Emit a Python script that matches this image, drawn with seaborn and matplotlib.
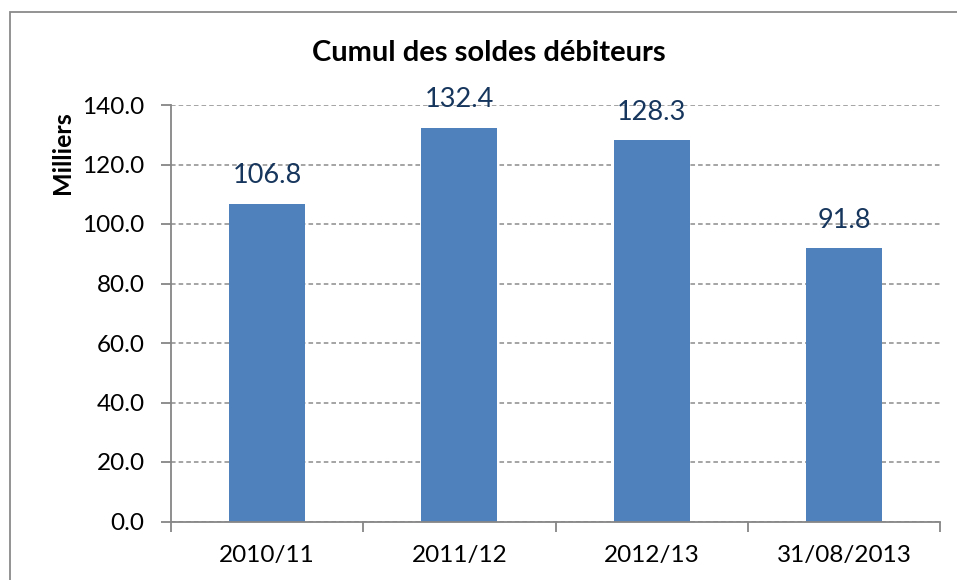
import matplotlib
matplotlib.use("Agg")
import matplotlib.pyplot as plt
import seaborn as sns
import pandas as pd
from matplotlib.patches import Rectangle
from matplotlib.ticker import FixedLocator, FormatStrFormatter

categories = ["2010/11", "2011/12", "2012/13", "31/08/2013"]
values = [106.8, 132.4, 128.3, 91.8]
title = "Cumul des soldes débiteurs"
ylabel = "Milliers"

sns.set_theme(style="white")
plt.rcParams['font.family'] = ['Lato', 'DejaVu Sans']

W, H = 957, 580
fig = plt.figure(figsize=(W / 100, H / 100), dpi=100)
ax = fig.add_axes([171 / W, 1 - 521.5 / H, (940 - 171) / W, (521.5 - 105) / H])

df = pd.DataFrame({"cat": categories, "val": values})
sns.barplot(data=df, x="cat", y="val", ax=ax, color="#4F81BD", saturation=1,
            width=0.395, zorder=3, edgecolor="none")

ax.set_ylim(0, 140)
ax.set_xlim(-0.5, len(categories) - 0.5)
ax.set_yticks(range(0, 141, 20))
ax.yaxis.set_major_formatter(FormatStrFormatter("%.1f"))
ax.grid(axis="y", linestyle=(0, (3, 2)), color="#8c8c8c", linewidth=1.1, zorder=0)
ax.set_axisbelow(True)
ax.set_xlabel("")
ax.set_ylabel("")

for s in ["top", "right"]:
    ax.spines[s].set_visible(False)
for s in ["left", "bottom"]:
    ax.spines[s].set_color("#868686")
    ax.spines[s].set_linewidth(1.3)
    ax.spines[s].set_zorder(4)

ax.tick_params(axis="y", which="major", left=True, length=7, width=1.3, color="#868686",
               labelsize=17.5, labelcolor="black", pad=12)
ax.tick_params(axis="x", which="major", bottom=False, length=0, labelsize=17.5,
               labelcolor="black", pad=17)
ax.xaxis.set_minor_locator(FixedLocator([i - 0.5 for i in range(len(categories) + 1)]))
ax.tick_params(axis="x", which="minor", bottom=True, length=7, width=1.3, color="#868686")

for i, v in enumerate(values):
    ax.annotate(f"{v:.1f}", xy=(i, v), xytext=(0, 11), textcoords="offset points",
                ha="center", va="bottom", fontsize=19.5, color="#17365D", zorder=5)

fig.text(489 / W, 1 - 53 / H, title, ha="center", va="center", fontsize=21,
         fontweight="bold", color="black")
fig.text(62 / W, 1 - 153 / H, ylabel, ha="center", va="center", rotation=90,
         fontsize=18, fontweight="bold", color="black")

fig.patches.append(Rectangle((10 / W, -0.1), 1.2, 1 - 12 / H + 0.1, transform=fig.transFigure,
                             fill=False, edgecolor="#8a8a8a", linewidth=1.3))

fig.savefig("out.png", dpi=100)
